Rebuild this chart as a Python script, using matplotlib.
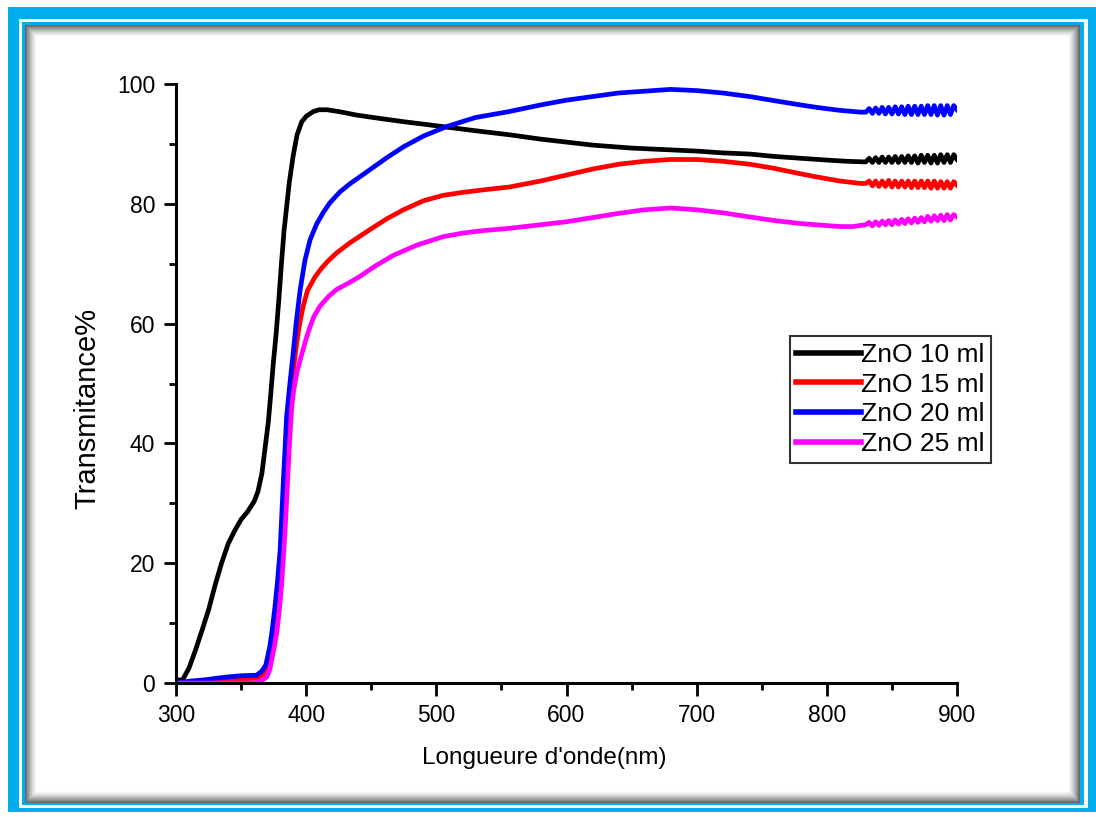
import numpy as np
import matplotlib
matplotlib.use("Agg")
import matplotlib.pyplot as plt
from matplotlib.ticker import MultipleLocator

plt.rcParams['font.family'] = ['Liberation Sans', 'DejaVu Sans']

# ---------------- data ----------------
wl_10 = [300, 305, 310, 315, 320, 325, 330, 335, 340, 345, 350, 355, 360, 363, 366, 368, 370.9, 372.7,
         374.8, 377, 379, 381, 383, 385, 387, 390, 393, 396.6, 400, 405.5, 410, 416, 425, 439, 455,
         475, 490, 508, 530, 557, 580, 600, 620, 650, 680, 700, 720, 741, 760, 780, 800, 815, 828]
t_10 = [0.5, 0.5, 2.5, 5.5, 8.8, 12.2, 16.3, 20.0, 23.2, 25.4, 27.3, 28.6, 30.3, 32.0, 35.0, 38.5, 43.5, 48.0,
        53.5, 58.5, 64.0, 70.0, 75.5, 79.5, 83.5, 88.0, 91.5, 93.7, 94.6, 95.4, 95.7, 95.7, 95.4, 94.8, 94.3,
        93.7, 93.3, 92.8, 92.2, 91.5, 90.8, 90.3, 89.8, 89.3, 89.0, 88.8, 88.5, 88.3, 87.9, 87.6, 87.3, 87.1, 87.0]

wl_15 = [300, 320, 340, 355, 363, 367, 370, 373, 376, 378, 380, 382, 384, 386, 388, 390, 392.7, 395,
         397.8, 401, 406.8, 412, 417, 423.4, 433.7, 449, 462, 474.7, 490, 505, 520, 535, 556,
         580, 600, 620, 640, 660, 680, 700, 720, 741, 760, 780, 792, 810, 826]
t_15 = [0.0, 0.2, 0.5, 0.7, 0.9, 1.5, 3.0, 6.0, 11.0, 15.0, 20.0, 27.0, 34.0, 41.0, 47.0, 52.0, 56.7, 60.0,
        63.0, 65.5, 67.8, 69.3, 70.5, 71.8, 73.5, 75.7, 77.5, 79.0, 80.5, 81.4, 81.9, 82.3, 82.8,
        83.8, 84.8, 85.8, 86.6, 87.1, 87.4, 87.4, 87.1, 86.6, 85.9, 85.0, 84.5, 83.8, 83.4]

wl_20 = [300, 310, 321, 335, 349, 362, 366, 369, 372, 374, 376, 378, 380, 382.4, 385, 387.5, 390, 392.5,
         395.3, 399, 403, 408, 413, 418, 426, 434, 449, 462, 474.7, 490, 508, 530, 556, 580,
         600, 620, 640, 660, 680, 700, 720, 741, 760, 780, 792, 810, 826]
t_20 = [0.0, 0.3, 0.5, 0.9, 1.2, 1.3, 2.0, 3.0, 6.0, 9.0, 12.7, 17.0, 22.2, 33.3, 44.5, 50.0, 55.0, 60.5,
        65.5, 70.5, 74.0, 76.6, 78.5, 80.1, 82.0, 83.4, 85.7, 87.7, 89.5, 91.3, 92.9, 94.4, 95.4, 96.5,
        97.3, 97.9, 98.5, 98.8, 99.1, 98.9, 98.5, 97.9, 97.2, 96.5, 96.1, 95.6, 95.3]

wl_25 = [300, 330, 355, 362, 366, 369.7, 372, 373.5, 375.5, 377.4, 379.3, 381.2, 382.5, 383.7, 385, 386.3,
         387.6, 388.9, 390.5, 393, 396.5, 400, 403, 406, 410.6, 417, 423.4, 433.7, 441.4, 453, 467, 485, 505,
         520, 535, 556, 580, 600, 620, 640, 660, 680, 700, 720, 741, 760, 780, 792, 810, 820, 826]
t_25 = [0.0, 0.0, 0.0, 0.1, 0.4, 1.0, 2.2, 3.8, 6.0, 8.3, 12.0, 16.6, 21.0, 25.0, 30.5, 36.1,
        41.5, 46.1, 49.0, 52.0, 54.8, 57.5, 59.5, 61.2, 62.9, 64.5, 65.7, 66.9, 67.9, 69.6, 71.4, 73.1, 74.5,
        75.1, 75.5, 75.9, 76.5, 77.0, 77.7, 78.4, 79.0, 79.3, 79.0, 78.5, 77.8, 77.2, 76.7, 76.5, 76.2, 76.2, 76.4]

# noisy tail 830-900 nm (read point by point)
wl_tail = [830, 832.5, 835, 837.5, 840, 842.5, 845, 847.5, 850, 852.5, 855, 857.5, 860, 862.5, 865,
           867.5, 870, 872.5, 875, 877.5, 880, 882.5, 885, 887.5, 890, 892.5, 895, 897.5, 900]
tail_10 = [87.0, 87.6, 86.9, 87.7, 86.9, 87.8, 86.9, 87.8, 86.9, 87.9, 86.9, 87.9, 86.9, 88.0, 86.9,
           88.0, 86.8, 88.1, 86.9, 88.1, 86.8, 88.1, 86.8, 88.2, 86.9, 88.2, 86.9, 88.2, 87.4]
tail_15 = [83.4, 83.8, 83.0, 83.8, 82.9, 83.8, 82.9, 83.9, 82.8, 83.8, 82.8, 83.8, 82.8, 83.8, 82.7,
           83.8, 82.7, 83.8, 82.7, 83.8, 82.6, 83.8, 82.6, 83.7, 82.6, 83.7, 82.6, 83.7, 83.1]
tail_20 = [95.3, 95.9, 95.1, 96.0, 95.1, 96.1, 95.0, 96.1, 95.0, 96.2, 95.0, 96.2, 94.9, 96.3, 94.9,
           96.3, 94.9, 96.3, 94.9, 96.4, 94.9, 96.4, 94.8, 96.4, 94.8, 96.4, 94.9, 96.4, 95.7]
tail_25 = [76.5, 76.9, 76.3, 77.0, 76.4, 77.1, 76.5, 77.2, 76.5, 77.3, 76.6, 77.4, 76.7, 77.5, 76.8,
           77.6, 76.9, 77.7, 77.0, 77.9, 77.1, 78.0, 77.2, 78.1, 77.2, 78.2, 77.3, 78.2, 77.8]

labels = ['ZnO 10 ml', 'ZnO 15 ml', 'ZnO 20 ml', 'ZnO 25 ml']
colors = ['#000000', '#ff0000', '#0000ff', '#ff00ff']
series = [(wl_10, t_10, tail_10), (wl_15, t_15, tail_15), (wl_20, t_20, tail_20), (wl_25, t_25, tail_25)]

x_ticks = [300, 400, 500, 600, 700, 800, 900]
y_ticks = [0, 20, 40, 60, 80, 100]

# ---------------- figure & decorative frame ----------------
W, H = 1096, 817
fig = plt.figure(figsize=(W / 100, H / 100), dpi=100)

img = np.ones((H, W, 3))
blue = np.array([0, 174, 239]) / 255.0
img[7:812, 8:1096] = blue
img[19:808, 19:1088] = 1.0
img[22:805, 22:1084] = blue
# inner panel with grey bevel shadow
y0, y1, x0, x1 = 25, 803, 25, 1080
ph, pw = y1 - y0, x1 - x0
yy, xx = np.mgrid[0:ph, 0:pw]
d = np.minimum(np.minimum(xx, pw - 1 - xx), np.minimum(yy, ph - 1 - yy)).astype(float)
shade = 1.0 - 0.6 * np.clip(1.0 - d / 12.0, 0, 1) ** 1.5
img[y0:y1, x0:x1] = shade[..., None]
fig.figimage(img, xo=0, yo=0, origin='upper', zorder=-10)

ax = fig.add_axes([176 / W, 1 - 683 / H, (957 - 176) / W, (683 - 84) / H])
ax.set_facecolor('none')

for (wl, t, tail), lab, c in zip(series, labels, colors):
    ax.plot(list(wl) + wl_tail, list(t) + tail, color=c, lw=3.4, label=lab, solid_joinstyle='round')

ax.set_xlim(300, 900)
ax.set_ylim(0, 100)
ax.set_xticks(x_ticks)
ax.set_yticks(y_ticks)
ax.xaxis.set_minor_locator(MultipleLocator(50))
ax.yaxis.set_minor_locator(MultipleLocator(10))
for s in ['top', 'right']:
    ax.spines[s].set_visible(False)
for s in ['left', 'bottom']:
    ax.spines[s].set_linewidth(2.2)
ax.tick_params(which='major', direction='out', length=9, width=2, labelsize=16.5, pad=6)
ax.tick_params(which='minor', direction='out', length=5, width=2)

ax.text(0.472, -0.125, "Longueure d'onde(nm)", transform=ax.transAxes, ha='center', va='center',
        fontsize=17.5)
ax.text(-0.113, 0.459, "Transmitance%", transform=ax.transAxes, ha='center', va='center',
        rotation=90, fontsize=21)

leg = ax.legend(loc='upper left', bbox_to_anchor=(0.786, 0.579), fontsize=19, frameon=True,
                fancybox=False, handlelength=2.45, handletextpad=0.0, labelspacing=0.22,
                borderpad=0.25, borderaxespad=0, edgecolor='black')
leg.get_frame().set_linewidth(1.5)
for lh in leg.get_lines():
    lh.set_linewidth(4)

fig.savefig('out.png', dpi=100)
